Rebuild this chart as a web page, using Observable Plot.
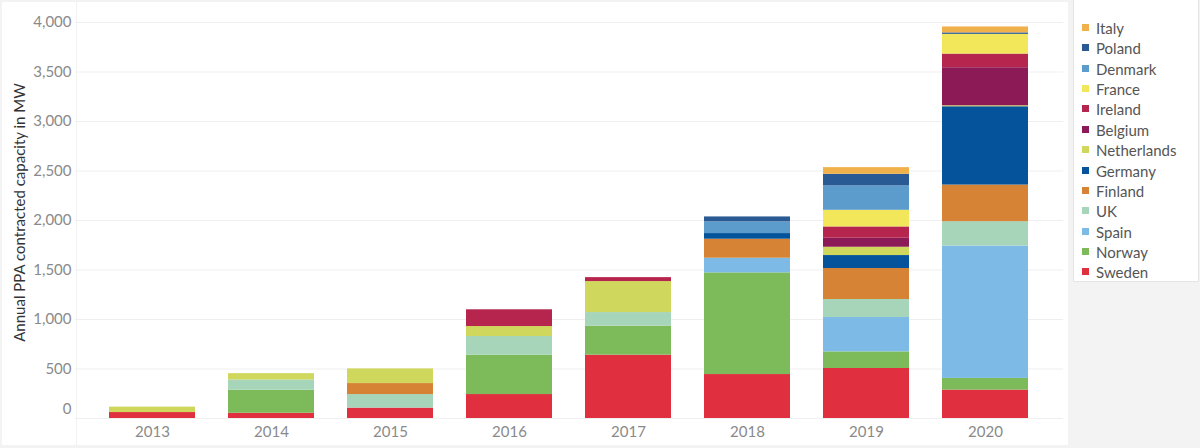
<!DOCTYPE html>
<html>
<head>
<meta charset="utf-8">
<script src="https://cdn.jsdelivr.net/npm/d3@7"></script>
<script src="https://cdn.jsdelivr.net/npm/@observablehq/plot@0.6"></script>
<style>
  html, body { margin: 0; padding: 0; background: #ffffff; }
  #wrap { position: relative; width: 1200px; height: 448px; background: #f3f3f3; overflow: hidden; font-family: Lato, "Open Sans", sans-serif; }
  #panel { position: absolute; left: 2px; top: 2px; width: 1066px; height: 443px; background: #ffffff; }
  #chart { position: absolute; left: 0; top: 0; }
  #vline { position: absolute; left: 76px; top: 2px; width: 1px; height: 443px; background: #f2f2f2; }
  #legend { position: absolute; left: 1073px; top: 0px; width: 124px; height: 281px; background: #ffffff; border: 1px solid #e4e4e4; border-top: none; }
  .item { position: absolute; left: 0; height: 20px; line-height: 20px; font-size: 15px; color: #555; white-space: nowrap; }
  .sw { position: absolute; left: 8px; top: 6px; width: 7px; height: 7px; }
  .lab { position: absolute; left: 22px; top: 0; }
</style>
</head>
<body>
<div id="wrap">
  <div id="panel"></div>
  <div id="vline"></div>
  <div id="chart"></div>
  <div id="legend"></div>
</div>
<script>
// Categories
const years = ["2013", "2014", "2015", "2016", "2017", "2018", "2019", "2020"];
// Stack order, bottom to top
const countries = ["Sweden", "Norway", "Spain", "UK", "Finland", "Germany", "Netherlands", "Belgium", "Ireland", "France", "Denmark", "Poland", "Italy"];
const colors = ["#e02f3f", "#7dbb5a", "#7dbbe6", "#a6d5b9", "#d68335", "#05539b", "#cfd75c", "#8b1a57", "#b5254d", "#f2e65a", "#5c9ccc", "#2a5a94", "#f0b04a"];

// Series values (MW) per year 2013..2020
const sweden      = [60, 53, 105, 242, 640, 444, 505, 287];
const norway      = [0, 232, 0, 398, 293, 1027, 168, 118];
const spain       = [0, 0, 0, 0, 0, 148, 347, 1337];
const uk          = [0, 104, 137, 188, 137, 0, 182, 246];
const finland     = [0, 0, 111, 0, 0, 192, 313, 370];
const germany     = [0, 0, 0, 0, 0, 57, 131, 791];
const netherlands = [55, 64, 148, 101, 313, 0, 84, 10];
const belgium     = [0, 0, 0, 0, 0, 0, 91, 384];
const ireland     = [0, 0, 0, 169, 40, 0, 114, 138];
const france      = [0, 0, 0, 0, 0, 0, 168, 199];
const denmark     = [0, 0, 0, 0, 0, 118, 246, 0];
const poland      = [0, 0, 0, 0, 0, 50, 118, 15];
const italy       = [0, 0, 0, 0, 0, 0, 67, 60];

const yTicks = [500, 1000, 1500, 2000, 2500, 3000, 3500, 4000];
const gridTicks = [0, 500, 1000, 1500, 2000, 2500, 3000, 3500, 4000];
const yTitle = "Annual PPA contracted capacity in MW";

const series = [sweden, norway, spain, uk, finland, germany, netherlands, belgium, ireland, france, denmark, poland, italy];
const rows = [];
countries.forEach((c, i) => {
  years.forEach((y, j) => {
    if (series[i][j] > 0) rows.push({year: y, country: c, value: series[i][j]});
  });
});

const fmt = d3.format(",");

const chart = Plot.plot({
  width: 1068,
  height: 448,
  marginTop: 22,
  marginBottom: 30,
  marginLeft: 75,
  marginRight: 5,
  style: {background: "transparent", fontFamily: "Lato, 'Open Sans', sans-serif"},
  x: {domain: years, padding: 0.277, label: null},
  y: {domain: [0, 4000], label: null},
  color: {domain: countries, range: colors},
  marks: [
    Plot.gridY(gridTicks, {stroke: "#efefef", strokeOpacity: 1}),
    Plot.barY(rows, Plot.stackY({x: "year", y: "value", fill: "country", order: countries})),
    Plot.axisY(yTicks, {tickSize: 0, tickPadding: 4, tickFormat: fmt, fontSize: 15, fill: "#8a8a8a", label: null}),
    Plot.text([0], {y: d => d, text: d => fmt(d), frameAnchor: "left", textAnchor: "end", dx: -4, dy: -9, fontSize: 15, fill: "#8a8a8a"}),
    Plot.axisX({tickSize: 0, tickPadding: 8, fontSize: 15, fill: "#8a8a8a", label: null}),
    Plot.text([yTitle], {text: d => d, frameAnchor: "left", textAnchor: "middle", rotate: -90, dx: -55, dy: -8, fontSize: 15, fill: "#333"})
  ]
});
document.getElementById("chart").appendChild(chart);

// Legend (top to bottom = reverse of stack order)
const legend = document.getElementById("legend");
const legendOrder = countries.slice().reverse();
legendOrder.forEach((c, i) => {
  const item = document.createElement("div");
  item.className = "item";
  item.style.top = (18 + i * 20.37) + "px";
  const sw = document.createElement("div");
  sw.className = "sw";
  sw.style.background = colors[countries.indexOf(c)];
  const lab = document.createElement("div");
  lab.className = "lab";
  lab.textContent = c;
  item.appendChild(sw);
  item.appendChild(lab);
  legend.appendChild(item);
});
</script>
</body>
</html>
